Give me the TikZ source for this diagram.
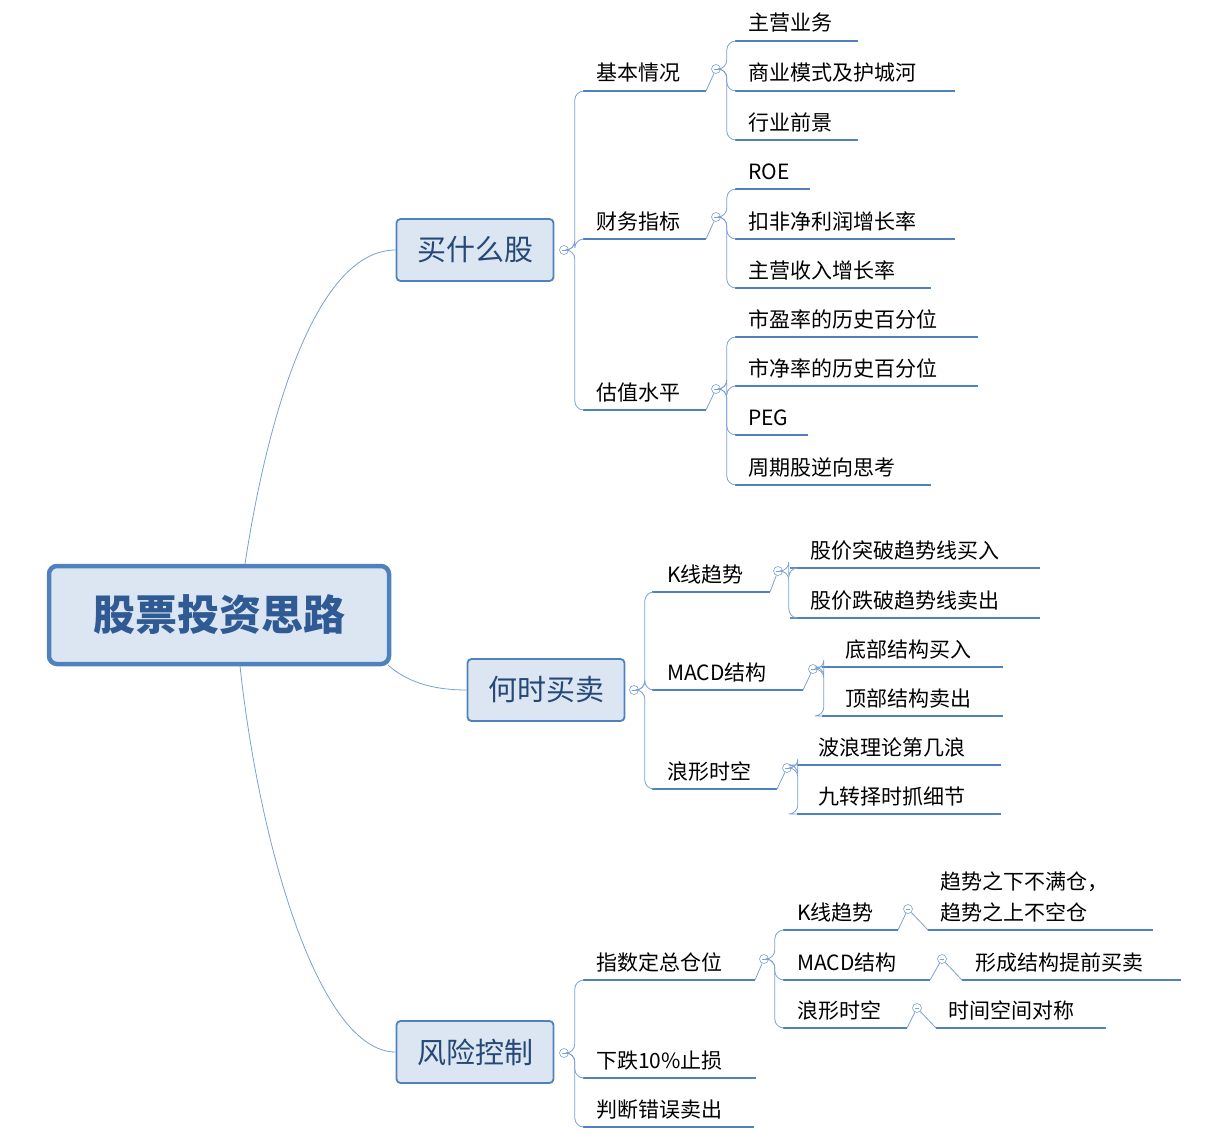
\documentclass[tikz,border=0pt]{standalone}
\usepackage{fontspec}
\setmainfont{Noto Sans CJK SC}
\definecolor{ln}{HTML}{4F81BD}
\definecolor{cn}{HTML}{7BA0D4}
\definecolor{bx}{HTML}{DCE6F2}
\definecolor{rt}{HTML}{2F5A93}
\tikzset{
  uline/.style={draw=ln,line width=2.6pt},
  conn/.style={draw=cn,line width=0.8pt},
  lbl/.style={anchor=base west,inner sep=0pt,font=\fontsize{21}{26}\selectfont},
  clp/.style={circle,draw=cn,fill=white,minimum size=9pt,inner sep=0pt,line width=0.6pt},
  lvone/.style={draw=ln,line width=1.8pt,fill=bx,rounded corners=4pt,font=\fontsize{29}{34}\selectfont,text=rt!80!black,inner sep=0pt},
}
% \lf{name}{x1}{x2}{y}{xtext}{text}
\newcommand\lf[6]{%
  \coordinate (#1-s) at (#2,#4);
  \coordinate (#1-e) at (#3,#4);
  \draw[uline] (#1-s) -- (#1-e);
  \node[lbl] (#1) at (#5,#4-10) {#6};}
\newcommand\clp[3]{\node[clp] (#1) at (#2,#3) {}; \draw[cn,line width=0.6pt] ([xshift=-2.2pt]#1.center) -- ([xshift=2.2pt]#1.center);}
\newcommand\br[2]{\draw[conn,rounded corners=9pt] (#1.east) -- ++(6,0) |- (#2-s);}
\begin{document}
\begin{tikzpicture}[x=1pt,y=-1pt]
\useasboundingbox (0,0) rectangle (1210,1140);
% root
\node[draw=ln,line width=4.5pt,fill=bx,rounded corners=8pt,minimum width=340pt,minimum height=98pt,font=\fontsize{42}{48}\selectfont\bfseries,text=rt] (root) at (219,615) {股票投资思路};
% level 1
\node[lvone,minimum width=157pt,minimum height=62pt] (A) at (475,250) {买什么股};
\node[lvone,minimum width=157pt,minimum height=62pt] (B) at (546,690) {何时买卖};
\node[lvone,minimum width=157pt,minimum height=62pt] (C) at (475,1052) {风险控制};
\draw[conn] (245,564) .. controls (270,400) and (320,250) .. (A.west);
\draw[conn] (388,665) .. controls (410,685) and (440,690) .. (B.west);
\draw[conn] (240,666) .. controls (260,850) and (320,1052) .. (C.west);
\clp{cA}{564}{250}
\clp{cB}{634}{690}
\clp{cC}{564}{1053}
% group A
\lf{a1}{583}{706}{91}{596}{基本情况}
\lf{a2}{583}{706}{239}{596}{财务指标}
\lf{a3}{583}{706}{410}{596}{估值水平}
\foreach \n in {a1,a2,a3} {\br{cA}{\n}}
\clp{ca1}{716}{69}\clp{ca2}{716}{217}\clp{ca3}{716}{389}
\draw[conn] (a1-e) -- (ca1); \draw[conn] (a2-e) -- (ca2); \draw[conn] (a3-e) -- (ca3);
\lf{a11}{735}{858}{41}{748}{主营业务}
\lf{a12}{735}{955}{91}{748}{商业模式及护城河}
\lf{a13}{735}{858}{140}{748}{行业前景}
\foreach \n in {a11,a12,a13} {\br{ca1}{\n}}
\lf{a21}{735}{810}{189}{748}{ROE}
\lf{a22}{735}{955}{239}{748}{扣非净利润增长率}
\lf{a23}{735}{931}{288}{748}{主营收入增长率}
\foreach \n in {a21,a22,a23} {\br{ca2}{\n}}
\lf{a31}{735}{978}{337}{748}{市盈率的历史百分位}
\lf{a32}{735}{978}{386}{748}{市净率的历史百分位}
\lf{a33}{735}{808}{435}{748}{PEG}
\lf{a34}{735}{931}{485}{748}{周期股逆向思考}
\foreach \n in {a31,a32,a33,a34} {\br{ca3}{\n}}
% group B
\lf{b1}{652}{770}{592}{667}{K线趋势}
\lf{b2}{652}{803}{690}{667}{MACD结构}
\lf{b3}{652}{777}{789}{667}{浪形时空}
\foreach \n in {b1,b2,b3} {\br{cB}{\n}}
\clp{cb1}{778}{571}\clp{cb2}{813}{669}\clp{cb3}{787}{768}
\draw[conn] (b1-e) -- (cb1); \draw[conn] (b2-e) -- (cb2); \draw[conn] (b3-e) -- (cb3);
\lf{b11}{790}{1040}{568}{810}{股价突破趋势线买入}
\lf{b12}{790}{1040}{618}{810}{股价跌破趋势线卖出}
\foreach \n in {b11,b12} {\br{cb1}{\n}}
\lf{b21}{822}{1003}{667}{845}{底部结构买入}
\lf{b22}{822}{1003}{716}{845}{顶部结构卖出}
\foreach \n in {b21,b22} {\br{cb2}{\n}}
\lf{b31}{797}{1001}{765}{818}{波浪理论第几浪}
\lf{b32}{797}{1001}{814}{818}{九转择时抓细节}
\foreach \n in {b31,b32} {\br{cb3}{\n}}
% group C
\lf{c1}{583}{755}{980}{596}{指数定总仓位}
\lf{c2}{583}{756}{1078}{596}{下跌10\%止损}
\lf{c3}{583}{754}{1127}{596}{判断错误卖出}
\foreach \n in {c1,c2,c3} {\br{cC}{\n}}
\clp{cc1}{764}{959}
\draw[conn] (c1-e) -- (cc1);
\lf{c11}{783}{898}{930}{797}{K线趋势}
\lf{c12}{783}{930}{980}{797}{MACD结构}
\lf{c13}{783}{907}{1028}{797}{浪形时空}
\foreach \n in {c11,c12,c13} {\br{cc1}{\n}}
\clp{cc11}{908}{909}\clp{cc12}{942}{959}\clp{cc13}{917}{1008}
\draw[conn] (c11-e) -- (cc11); \draw[conn] (c12-e) -- (cc12); \draw[conn] (c13-e) -- (cc13);
\coordinate (c111-s) at (928,930); \coordinate (c111-e) at (1153,930);
\draw[uline] (c111-s) -- (c111-e);
\node[anchor=south west,inner sep=0pt,align=left,font=\fontsize{21}{31}\selectfont] (c111) at (940,922) {趋势之下不满仓，\\趋势之上不空仓};
\draw[conn] (cc11) -- (c111-s);
\lf{c121}{962}{1181}{980}{975}{形成结构提前买卖}
\draw[conn] (cc12) -- (c121-s);
\lf{c131}{936}{1106}{1028}{948}{时间空间对称}
\draw[conn] (cc13) -- (c131-s);
\end{tikzpicture}
\end{document}
